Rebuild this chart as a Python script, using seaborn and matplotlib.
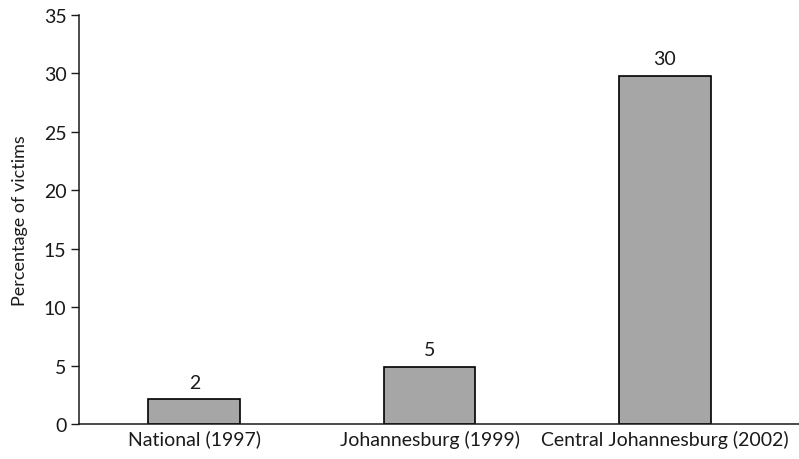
import matplotlib
matplotlib.use("Agg")
import seaborn as sns
import matplotlib.pyplot as plt

categories = ["National (1997)", "Johannesburg (1999)", "Central Johannesburg (2002)"]
values = [2.1, 4.9, 29.8]
value_labels = ["2", "5", "30"]
y_ticks = [0, 5, 10, 15, 20, 25, 30, 35]

sns.set_style("white")
plt.rcParams['font.family'] = ['Lato', 'DejaVu Sans']

fig = plt.figure(figsize=(7.99, 4.6), dpi=100)
ax = fig.add_axes([0.0989, 0.0761, 0.901, 0.889])

sns.barplot(x=categories, y=values, color="#a6a6a6", saturation=1,
            edgecolor="black", linewidth=1.2, width=0.39, ax=ax)

for i, (v, lab) in enumerate(zip(values, value_labels)):
    ax.annotate(lab, (i, v), xytext=(0, 6), textcoords="offset points",
                ha="center", va="bottom", fontsize=14, color="#1a1a1a")

ax.set_xlim(-0.49, 2.57)
ax.set_ylim(0, 35)
ax.set_yticks(y_ticks)
ax.tick_params(axis="y", direction="out", length=6, width=1, left=True,
               labelsize=14, colors="#1a1a1a", pad=3)
ax.tick_params(axis="x", length=0, labelsize=14, colors="#1a1a1a", pad=4)
ax.set_ylabel("Percentage of victims", fontsize=13, color="#1a1a1a", labelpad=11)
ax.set_xlabel("")

for s in ["top", "right"]:
    ax.spines[s].set_visible(False)
for s in ["left", "bottom"]:
    ax.spines[s].set_color("#1a1a1a")
    ax.spines[s].set_linewidth(1.1)

fig.savefig("out.png", dpi=100)
